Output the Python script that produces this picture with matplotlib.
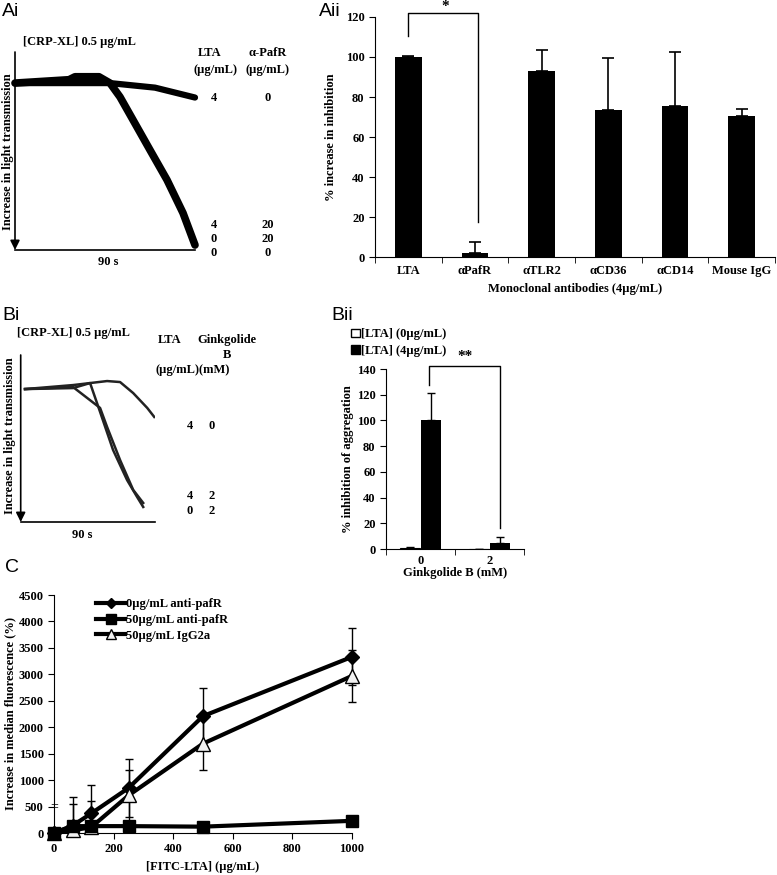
import numpy as np
import matplotlib
matplotlib.use('Agg')
import matplotlib.pyplot as plt
from matplotlib.patches import Patch, Rectangle
from matplotlib.lines import Line2D

plt.rcParams['font.family'] = ['Liberation Serif', 'DejaVu Serif']
plt.rcParams['font.weight'] = 'bold'
plt.rcParams['axes.labelweight'] = 'bold'
plt.rcParams['font.size'] = 9

# ---- data ----
# Ai: aggregation traces (time s, % light transmission, axis points down)
ai_flat_t = [0, 47.5, 70, 90]
ai_flat_y = [15.7, 15.7, 18, 23]
ai_drop_t = [0, 27, 30, 42, 47.5, 52.5, 59, 67.5, 76, 84, 90]
ai_drop_y = [15.7, 14, 12.5, 12.5, 15.7, 22.7, 34.3, 49.5, 64.6, 81.3, 97.5]
ai_lta = ['4', '4', '0', '0']
ai_pafr = ['0', '20', '20', '0']

# Aii: bar chart
aii_cats = ['LTA', 'αPafR', 'αTLR2', 'αCD36', 'αCD14', 'Mouse IgG']
aii_vals = [100, 2, 93, 73.5, 75.5, 70.5]
aii_err = [0.3, 5.5, 10.5, 26, 27, 3.5]

# Bi: traces
bi_t1 = [2.9, 35.1, 57.9, 66.6, 75.4, 84.8, 89.5]
bi_y1 = [20.4, 18, 15.6, 16.2, 22.8, 31.7, 37.1]
bi_t2 = [2.9, 35.1, 46.5, 53.2, 61.9, 71.3, 78, 82.1]
bi_y2 = [20.4, 19.8, 16.8, 34.1, 56.9, 74.9, 85, 91]
bi_t3 = [2.9, 35.1, 53.2, 57.9, 66.6, 75.4, 82.1]
bi_y3 = [20.4, 19.2, 31.7, 43.1, 62.9, 80.8, 88.6]
bi_lta = ['4', '4', '0']
bi_gb = ['0', '2', '2']

# Bii
bii_cats = ['0', '2']
bii_lta0 = [1, 0]
bii_lta0_err = [0.6, 0]
bii_lta4 = [100, 4.5]
bii_lta4_err = [21.5, 4.5]

# C
c_x = [0, 62.5, 125, 250, 500, 1000]
c_none = [0, 140, 370, 850, 2210, 3330]
c_none_err = [0, 540, 540, 540, 540, 540]
c_pafr = [0, 130, 130, 130, 120, 230]
c_igg = [0, 50, 110, 710, 1690, 2970]
c_igg_err = [0, 490, 490, 490, 490, 490]

W, H = 777, 875
fig = plt.figure(figsize=(W / 100, H / 100), dpi=100)


def rect(l, r, t, b):
    return [l / W, 1 - b / H, (r - l) / W, (b - t) / H]


def ftxt(x, y, s, **kw):
    kw.setdefault('ha', 'center')
    kw.setdefault('va', 'center')
    fig.text(x / W, 1 - y / H, s, **kw)


def trace_axes(ax):
    ax.set_xlim(0, 90)
    ax.set_ylim(100, 0)
    for s in ['top', 'right', 'left']:
        ax.spines[s].set_visible(False)
    ax.spines['bottom'].set_linewidth(1.2)
    ax.set_xticks([])
    ax.set_yticks([])
    ax.annotate('', xy=(0, 0.0), xytext=(0, 1.0), xycoords='axes fraction',
                arrowprops=dict(arrowstyle='-|>', color='black', lw=1.2, mutation_scale=14,
                                shrinkA=0, shrinkB=0),
                annotation_clip=False)
    ax.patch.set_alpha(0)


# ---- Ai ----
ax1 = fig.add_axes(rect(15, 195, 52, 250))
trace_axes(ax1)
ax1.plot(ai_flat_t, ai_flat_y, color='black', lw=4.5, solid_capstyle='round', clip_on=False)
ax1.plot(ai_drop_t, ai_drop_y, color='black', lw=5.5, solid_capstyle='round', clip_on=False)
ftxt(2, 12, 'Ai', family='Liberation Sans', weight='normal', fontsize=14, ha='left')
ftxt(23, 42, '[CRP-XL] 0.5 µg/mL', ha='left')
ftxt(8, 152, 'Increase in light transmission', rotation=90)
ftxt(108, 262, '90 s')
ftxt(210, 53, 'LTA')
ftxt(215, 70, '(µg/mL)')
ftxt(268, 53, 'α-PafR')
ftxt(268, 70, '(µg/mL)')
for y, a, b in zip([98, 225, 239, 253], ai_lta, ai_pafr):
    ftxt(214, y, a)
    ftxt(268, y, b)

# ---- Aii ----
ax2 = fig.add_axes(rect(375, 775, 17, 257))
xs = np.arange(len(aii_cats))
ax2.bar(xs, aii_vals, width=0.4, color='black',
        yerr=[np.zeros(len(xs)), aii_err], capsize=4,
        error_kw=dict(elinewidth=1.2, capthick=1.2, ecolor='black'))
ax2.set_xlim(-0.5, 5.5)
ax2.set_ylim(0, 120)
ax2.set_yticks(range(0, 121, 20))
ax2.set_xticks(xs)
ax2.set_xticklabels(aii_cats)
ax2.set_xticks(np.arange(-0.5, 5.6, 1), minor=True)
ax2.tick_params(axis='x', which='major', length=0, pad=6)
ax2.tick_params(axis='x', which='minor', length=4, direction='out')
ax2.tick_params(axis='y', length=4, direction='out')
for s in ['top', 'right']:
    ax2.spines[s].set_visible(False)
ax2.set_ylabel('% increase in inhibition', fontsize=9, labelpad=6)
ax2.set_xlabel('Monoclonal antibodies (4µg/mL)', fontsize=9, labelpad=4)
ax2.plot([0, 0, 1.05, 1.05], [110.5, 121.8, 121.8, 17.6], color='black', lw=1, clip_on=False)
ax2.text(0.55, 125, '*', ha='center', va='center', fontsize=11)
ftxt(330, 12, 'Aii', family='Liberation Sans', weight='normal', fontsize=14)

# ---- Bi ----
ax3 = fig.add_axes(rect(20.7, 155, 355, 522))
trace_axes(ax3)
ax3.plot(bi_t1, bi_y1, color='#222222', lw=1.8)
ax3.plot(bi_t2, bi_y2, color='#222222', lw=1.8)
ax3.plot(bi_t3, bi_y3, color='#222222', lw=1.8)
ftxt(2, 315, 'Bi', family='Liberation Sans', weight='normal', fontsize=14, ha='left')
ftxt(17, 333, '[CRP-XL] 0.5 µg/mL', ha='left')
ftxt(10, 436, 'Increase in light transmission', rotation=90)
ftxt(82, 535, '90 s')
ftxt(170, 340, 'LTA')
ftxt(227, 340, 'Ginkgolide')
ftxt(227, 355, 'B')
ftxt(193, 370, '(µg/mL)(mM)')
for y, a, b in zip([426, 496, 511], bi_lta, bi_gb):
    ftxt(190, y, a)
    ftxt(212, y, b)

# ---- Bii ----
ax4 = fig.add_axes(rect(386, 524, 369, 549))
xb = np.arange(len(bii_cats))
ax4.bar(xb - 0.15, bii_lta0, width=0.29, color='white', edgecolor='black', lw=0.8,
        yerr=[np.zeros(2), bii_lta0_err], capsize=3,
        error_kw=dict(elinewidth=1, capthick=1, ecolor='black'))
ax4.bar(xb + 0.15, bii_lta4, width=0.29, color='black',
        yerr=[np.zeros(2), bii_lta4_err], capsize=3,
        error_kw=dict(elinewidth=1, capthick=1, ecolor='black'))
ax4.set_xlim(-0.5, 1.5)
ax4.set_ylim(0, 140)
ax4.set_yticks(range(0, 141, 20))
ax4.set_xticks(xb)
ax4.set_xticklabels(bii_cats)
ax4.set_xticks([-0.5, 0.5, 1.5], minor=True)
ax4.tick_params(axis='x', which='major', length=0, pad=4)
ax4.tick_params(axis='x', which='minor', length=4, direction='out')
ax4.tick_params(axis='y', length=4, direction='out')
for s in ['top', 'right']:
    ax4.spines[s].set_visible(False)
ax4.set_ylabel('% inhibition of aggregation', fontsize=9, labelpad=2)
ax4.set_xlabel('Ginkgolide B (mM)', fontsize=9, labelpad=0)
ax4.plot([0.13, 0.13, 1.15, 1.15], [127.6, 142.3, 142.3, 16], color='black', lw=1, clip_on=False)
ax4.text(0.65, 150, '**', ha='center', va='center', fontsize=11)
ax4.legend(handles=[Patch(facecolor='white', edgecolor='black', label='[LTA] (0µg/mL)'),
                    Patch(facecolor='black', edgecolor='black', label='[LTA] (4µg/mL)')],
           loc='upper left', bbox_to_anchor=(345 / W, 1 - 322 / H), bbox_transform=fig.transFigure,
           frameon=False, handlelength=0.7, handleheight=0.7, handletextpad=0.1,
           labelspacing=0.35, borderpad=0, fontsize=9)
ftxt(342, 315, 'Bii', family='Liberation Sans', weight='normal', fontsize=14)

# ---- C ----
ax5 = fig.add_axes(rect(54, 352, 595, 833))
# error bars are cut at the x axis but may run past the right edge
clip = Rectangle((-0.05, 0), 1.1, 1.2, transform=ax5.transAxes, visible=False)
ax5.add_patch(clip)
for yv, ev in [(c_none, c_none_err), (c_igg, c_igg_err)]:
    eb = ax5.errorbar(c_x, yv, yerr=ev, fmt='none', ecolor='black', elinewidth=1,
                      capsize=3, capthick=1, zorder=2)
    for art in eb.lines[1] + eb.lines[2]:
        art.set_clip_path(clip)
ax5.plot(c_x, c_none, color='black', lw=3, marker='D', ms=7, clip_on=False, zorder=3)
ax5.plot(c_x, c_igg, color='black', lw=3, marker='^', ms=10, mfc='#f2f2f2', mec='black',
         mew=1, clip_on=False, zorder=3)
ax5.plot(c_x, c_pafr, color='black', lw=3, marker='s', ms=9, clip_on=False, zorder=4)
ax5.set_xlim(0, 1000)
ax5.set_ylim(0, 4500)
ax5.set_xticks(range(0, 1001, 200))
ax5.set_yticks(range(0, 4501, 500))
ax5.tick_params(length=4, direction='out')
for s in ['top', 'right']:
    ax5.spines[s].set_visible(False)
ax5.set_xlabel('[FITC-LTA] (µg/mL)', fontsize=9, labelpad=4)
ax5.set_ylabel('Increase in median fluorescence (%)', fontsize=9, labelpad=2)
ax5.text(0, 500, '=', transform=ax5.get_yaxis_transform(), ha='center', va='center',
         fontsize=10, weight='normal')
ax5.legend(handles=[Line2D([], [], color='black', lw=3, marker='D', ms=5, label='0µg/mL anti-pafR'),
                    Line2D([], [], color='black', lw=3, marker='s', ms=7, label='50µg/mL anti-pafR'),
                    Line2D([], [], color='black', lw=3, marker='^', ms=7, mfc='#f2f2f2',
                           label='50µg/mL IgG2a')],
           loc='upper left', bbox_to_anchor=(90 / W, 1 - 592 / H), bbox_transform=fig.transFigure,
           frameon=False, handlelength=2.3, handletextpad=0.1, labelspacing=0.3,
           borderpad=0, fontsize=9)
ftxt(12, 567, 'C', family='Liberation Sans', weight='normal', fontsize=14)

fig.savefig('out.png', dpi=100)
